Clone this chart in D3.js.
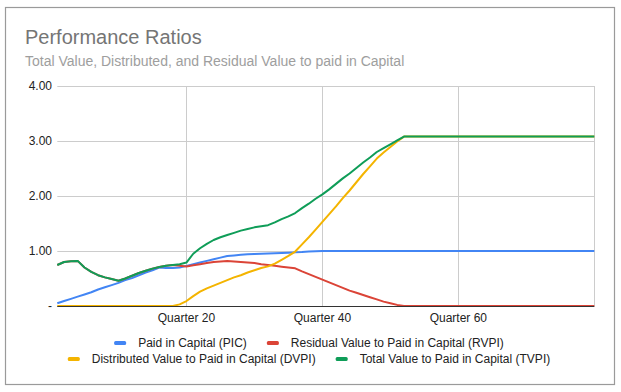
<!DOCTYPE html>
<html>
<head>
<meta charset="utf-8">
<script src="https://cdn.jsdelivr.net/npm/d3@7"></script>
<style>
  body { margin: 0; background: #fff; }
  svg { display: block; font-family: "Liberation Sans", Arial, sans-serif; }
</style>
</head>
<body>
<div id="chart"></div>
<script>
// quarters 1..80
var quarters = d3.range(1, 81);
var xTickLabels = ["Quarter 20", "Quarter 40", "Quarter 60"];
var yTicks = [0, 1, 2, 3, 4];

var pic = [0.05, 0.09, 0.13, 0.17, 0.21, 0.25, 0.30, 0.34, 0.38, 0.42,
  0.47, 0.51, 0.56, 0.61, 0.65, 0.70, 0.69, 0.69, 0.70, 0.73,
  0.76, 0.79, 0.82, 0.85, 0.88, 0.91, 0.92, 0.93, 0.94, 0.945,
  0.95, 0.955, 0.96, 0.965, 0.97, 0.975, 0.98, 0.99, 0.995, 1.0,
  1.0, 1.0, 1.0, 1.0, 1.0, 1.0, 1.0, 1.0, 1.0, 1.0,
  1.0, 1.0, 1.0, 1.0, 1.0, 1.0, 1.0, 1.0, 1.0, 1.0,
  1.0, 1.0, 1.0, 1.0, 1.0, 1.0, 1.0, 1.0, 1.0, 1.0,
  1.0, 1.0, 1.0, 1.0, 1.0, 1.0, 1.0, 1.0, 1.0, 1.0];

var rvpi = [0.745, 0.80, 0.815, 0.82, 0.70, 0.62, 0.56, 0.52, 0.49, 0.46,
  0.50, 0.55, 0.60, 0.64, 0.68, 0.71, 0.73, 0.745, 0.73, 0.72,
  0.74, 0.76, 0.78, 0.80, 0.81, 0.82, 0.81, 0.80, 0.79, 0.78,
  0.76, 0.745, 0.73, 0.715, 0.70, 0.685, 0.63, 0.58, 0.53, 0.48,
  0.43, 0.38, 0.33, 0.28, 0.24, 0.20, 0.16, 0.12, 0.08, 0.05,
  0.02, 0, 0, 0, 0, 0, 0, 0, 0, 0,
  0, 0, 0, 0, 0, 0, 0, 0, 0, 0,
  0, 0, 0, 0, 0, 0, 0, 0, 0, 0];

var dvpi = [0, 0, 0, 0, 0, 0, 0, 0, 0, 0,
  0, 0, 0, 0, 0, 0, 0, 0, 0.03, 0.09,
  0.18, 0.26, 0.32, 0.37, 0.42, 0.47, 0.52, 0.56, 0.61, 0.65,
  0.69, 0.72, 0.77, 0.84, 0.91, 0.99, 1.12, 1.25, 1.39, 1.53,
  1.67, 1.81, 1.96, 2.10, 2.25, 2.40, 2.54, 2.68, 2.79, 2.89,
  2.99, 3.08, 3.08, 3.08, 3.08, 3.08, 3.08, 3.08, 3.08, 3.08,
  3.08, 3.08, 3.08, 3.08, 3.08, 3.08, 3.08, 3.08, 3.08, 3.08,
  3.08, 3.08, 3.08, 3.08, 3.08, 3.08, 3.08, 3.08, 3.08, 3.08];

var tvpi = [0.745, 0.80, 0.815, 0.82, 0.70, 0.62, 0.56, 0.52, 0.49, 0.46,
  0.50, 0.55, 0.60, 0.64, 0.68, 0.71, 0.73, 0.745, 0.76, 0.79,
  0.95, 1.05, 1.13, 1.20, 1.25, 1.29, 1.33, 1.37, 1.40, 1.43,
  1.45, 1.47, 1.52, 1.58, 1.63, 1.69, 1.78, 1.86, 1.95, 2.03,
  2.12, 2.22, 2.32, 2.41, 2.51, 2.61, 2.70, 2.80, 2.87, 2.94,
  3.01, 3.08, 3.08, 3.08, 3.08, 3.08, 3.08, 3.08, 3.08, 3.08,
  3.08, 3.08, 3.08, 3.08, 3.08, 3.08, 3.08, 3.08, 3.08, 3.08,
  3.08, 3.08, 3.08, 3.08, 3.08, 3.08, 3.08, 3.08, 3.08, 3.08];

var seriesNames = ["Paid in Capital (PIC)", "Residual Value to Paid in Capital (RVPI)",
  "Distributed Value to Paid in Capital (DVPI)", "Total Value to Paid in Capital (TVPI)"];
var seriesColors = ["#4285f4", "#db4437", "#f4b400", "#0f9d58"];
var seriesValues = [pic, rvpi, dvpi, tvpi];

var width = 621, height = 392;

var svg = d3.select("#chart").append("svg")
  .attr("width", width)
  .attr("height", height);

// outer frame
svg.append("rect")
  .attr("x", 5.5).attr("y", 7.5)
  .attr("width", 609).attr("height", 377)
  .attr("fill", "#fff")
  .attr("stroke", "#9a9a9a")
  .attr("stroke-width", 1.2);

svg.append("text")
  .attr("x", 25).attr("y", 44)
  .attr("font-size", 20)
  .attr("fill", "#757575")
  .text("Performance Ratios");

svg.append("text")
  .attr("x", 25).attr("y", 66)
  .attr("font-size", 14)
  .attr("fill", "#9e9e9e")
  .text("Total Value, Distributed, and Residual Value to paid in Capital");

var x = d3.scalePoint()
  .domain(quarters)
  .range([57.3, 594.3]);

var y = d3.scaleLinear()
  .domain([0, 4])
  .range([306, 86]);

// horizontal grid
svg.append("g").selectAll("line")
  .data(yTicks.filter(d => d > 0))
  .enter().append("line")
  .attr("x1", x(1)).attr("x2", x(80))
  .attr("y1", d => Math.round(y(d)) + 0.5)
  .attr("y2", d => Math.round(y(d)) + 0.5)
  .attr("stroke", "#cccccc");

// vertical grid at labelled quarters plus last one
svg.append("g").selectAll("line")
  .data([20, 40, 60, 80])
  .enter().append("line")
  .attr("x1", d => Math.round(x(d)) + 0.5)
  .attr("x2", d => Math.round(x(d)) + 0.5)
  .attr("y1", y(4)).attr("y2", y(0))
  .attr("stroke", "#cccccc");

// y labels
svg.append("g").selectAll("text")
  .data(yTicks)
  .enter().append("text")
  .attr("x", 52)
  .attr("y", d => y(d) + 4)
  .attr("text-anchor", "end")
  .attr("font-size", 12)
  .attr("fill", "#222")
  .text(d => d === 0 ? "-" : d3.format(".2f")(d));

// x labels
svg.append("g").selectAll("text")
  .data(xTickLabels)
  .enter().append("text")
  .attr("x", (d, i) => x((i + 1) * 20))
  .attr("y", 322)
  .attr("text-anchor", "middle")
  .attr("font-size", 12)
  .attr("fill", "#222")
  .text(d => d);

var line = d3.line()
  .x((d, i) => x(quarters[i]))
  .y(d => y(d));

svg.append("g").selectAll("path")
  .data(seriesValues)
  .enter().append("path")
  .attr("d", line)
  .attr("fill", "none")
  .attr("stroke", (d, i) => seriesColors[i])
  .attr("stroke-width", 2)
  .attr("stroke-linejoin", "round");

// baseline
svg.append("line")
  .attr("x1", x(1)).attr("x2", x(80))
  .attr("y1", 306.5).attr("y2", 306.5)
  .attr("stroke", "#333");

// legend, two centred rows
var rows = [[0, 1], [2, 3]];
var rowY = [343, 359];
rows.forEach(function(row, r) {
  var g = svg.append("g");
  var cx = 0;
  row.forEach(function(si) {
    g.append("rect")
      .attr("x", cx).attr("y", rowY[r] - 2)
      .attr("width", 12).attr("height", 4)
      .attr("rx", 1.5)
      .attr("fill", seriesColors[si]);
    var t = g.append("text")
      .attr("x", cx + 24).attr("y", rowY[r] + 4)
      .attr("font-size", 12)
      .attr("fill", "#222")
      .text(seriesNames[si]);
    cx += 24 + t.node().getComputedTextLength() + 20;
  });
  var w = cx - 20;
  g.attr("transform", "translate(" + (309 - w / 2) + ",0)");
});
</script>
</body>
</html>
